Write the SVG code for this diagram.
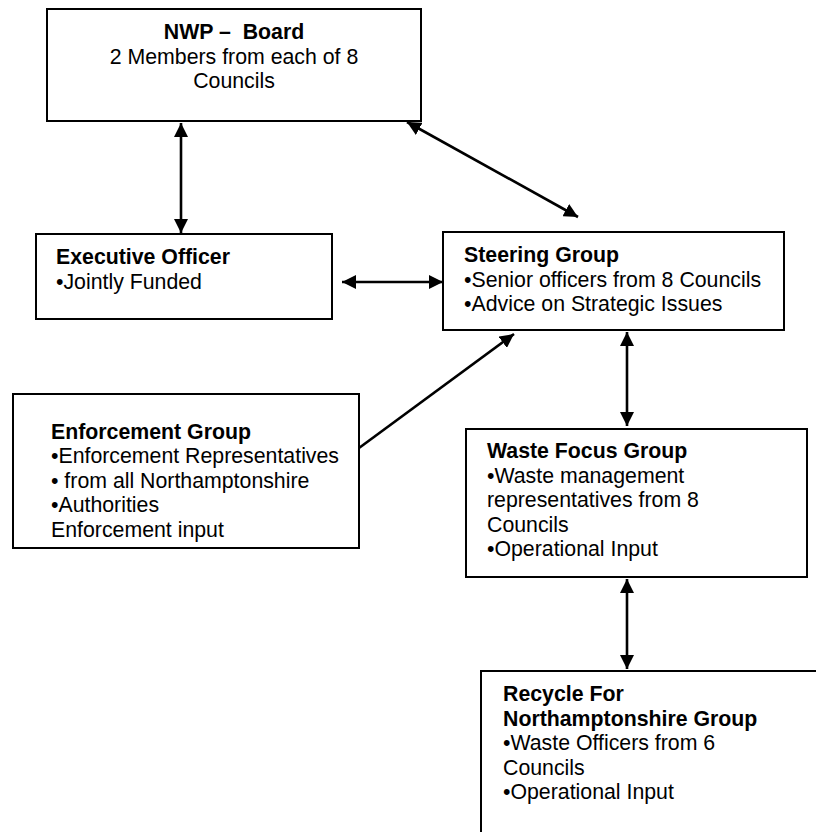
<svg xmlns="http://www.w3.org/2000/svg" width="816" height="832" viewBox="0 0 816 832">
<style>
.box{fill:#fff;stroke:#000;stroke-width:2}
text{font-family:"Liberation Sans",Arial,sans-serif;font-size:21.3px;fill:#000}
.b{font-weight:bold}
.c{stroke:#000;stroke-width:2.6;fill:none}
</style>
<defs>
<marker id="ah" viewBox="0 0 14 14" refX="14" refY="7" markerWidth="14" markerHeight="14" markerUnits="userSpaceOnUse" orient="auto-start-reverse">
<path d="M0,0 L14,7 L0,14 z" fill="#000"/>
</marker>
</defs>
<rect width="816" height="832" fill="#fff"/>
<g id="board">
<rect class="box" x="47" y="9" width="374" height="112"/>
<text x="234" y="39" text-anchor="middle" class="b" xml:space="preserve">NWP –  Board</text>
<text x="234" y="63.5" text-anchor="middle">2 Members from each of 8</text>
<text x="234" y="88" text-anchor="middle">Councils</text>
</g>
<g id="executive">
<rect class="box" x="36" y="234" width="296" height="85"/>
<text x="56" y="264" class="b">Executive Officer</text>
<text x="56" y="288.5">•Jointly Funded</text>
</g>
<g id="steering">
<rect class="box" x="443" y="232" width="341" height="98"/>
<text x="464" y="262" class="b">Steering Group</text>
<text x="464" y="286.5">•Senior officers from 8 Councils</text>
<text x="464" y="311">•Advice on Strategic Issues</text>
</g>
<g id="enforcement">
<rect class="box" x="13" y="394" width="346" height="154"/>
<text x="51" y="438.5" class="b">Enforcement Group</text>
<text x="51" y="463">•Enforcement Representatives</text>
<text x="51" y="487.5">• from all Northamptonshire</text>
<text x="51" y="512">•Authorities</text>
<text x="51" y="536.5">Enforcement input</text>
</g>
<g id="wastefocus">
<rect class="box" x="466" y="429" width="341" height="148"/>
<text x="487" y="458" class="b">Waste Focus Group</text>
<text x="487" y="482.5">•Waste management</text>
<text x="487" y="507">representatives from 8</text>
<text x="487" y="531.5">Councils</text>
<text x="487" y="556">•Operational Input</text>
</g>
<g id="recycle">
<rect class="box" x="481" y="671" width="345" height="171"/>
<text x="503" y="701" class="b">Recycle For</text>
<text x="503" y="725.5" class="b">Northamptonshire Group</text>
<text x="503" y="750">•Waste Officers from 6</text>
<text x="503" y="774.5">Councils</text>
<text x="503" y="799">•Operational Input</text>
</g>
<g id="connectors">
<line class="c" x1="181" y1="123" x2="181" y2="233" marker-start="url(#ah)" marker-end="url(#ah)"/>
<line class="c" x1="342" y1="282" x2="443" y2="282" marker-start="url(#ah)" marker-end="url(#ah)"/>
<line class="c" x1="407" y1="122" x2="578" y2="217" marker-start="url(#ah)" marker-end="url(#ah)"/>
<line class="c" x1="627" y1="332" x2="627" y2="426" marker-start="url(#ah)" marker-end="url(#ah)"/>
<line class="c" x1="627" y1="579" x2="627" y2="669" marker-start="url(#ah)" marker-end="url(#ah)"/>
<line class="c" x1="359" y1="448" x2="514" y2="334" marker-end="url(#ah)"/>
</g>
</svg>
